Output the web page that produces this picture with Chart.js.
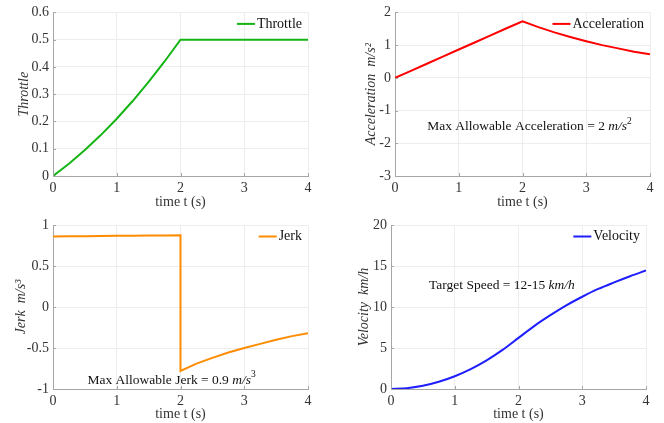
<!DOCTYPE html>
<html>
<head>
<meta charset="utf-8">
<script src="https://cdn.jsdelivr.net/npm/chart.js@4/dist/chart.umd.min.js"></script>
<style>
  body { margin: 0; background: #fff; }
  #wrap { position: relative; width: 664px; height: 423px; }
  canvas { position: absolute; }
</style>
</head>
<body>
<div id="wrap">
  <canvas id="c1" width="332" height="211" style="left:0;top:0"></canvas>
  <canvas id="c2" width="332" height="211" style="left:332px;top:0"></canvas>
  <canvas id="c3" width="332" height="212" style="left:0;top:211px"></canvas>
  <canvas id="c4" width="332" height="212" style="left:332px;top:211px"></canvas>
</div>
<script>
// values, every 0.25 s
const times = [0, 0.25, 0.5, 0.75, 1, 1.25, 1.5, 1.75, 2, 2.25, 2.5, 2.75, 3, 3.25, 3.5, 3.75, 4];
const throttle = [0, 0.045, 0.095, 0.15, 0.21, 0.275, 0.345, 0.42, 0.5, 0.5, 0.5, 0.5, 0.5, 0.5, 0.5, 0.5, 0.5];
const accel = [0, 0.215, 0.43, 0.65, 0.865, 1.08, 1.3, 1.515, 1.73, 1.55, 1.39, 1.25, 1.12, 1.0, 0.9, 0.8, 0.72];
const jerkTimes = [0, 0.25, 0.5, 0.75, 1, 1.25, 1.5, 1.75, 2, 2, 2.25, 2.5, 2.75, 3, 3.25, 3.5, 3.75, 4];
const jerk = [0.86, 0.862, 0.864, 0.866, 0.868, 0.869, 0.871, 0.873, 0.875, -0.78, -0.69, -0.62, -0.555, -0.5, -0.45, -0.4, -0.355, -0.32];
const velocity = [0, 0.1, 0.39, 0.88, 1.56, 2.43, 3.5, 4.77, 6.23, 7.7, 9.0, 10.2, 11.25, 12.2, 13.0, 13.75, 14.45];

const serif = "'Liberation Serif', 'DejaVu Serif', serif";
const txt = '#333333';
const axisCol = '#a6a6a6';
const fs = 14;

const insideLegend = {
  id: 'insideLegend',
  afterDraw(chart) {
    const ds = chart.data.datasets[0];
    const a = chart.chartArea;
    const ctx = chart.ctx;
    ctx.save();
    ctx.font = fs + 'px ' + serif;
    ctx.fillStyle = '#111';
    ctx.textBaseline = 'middle';
    const w = ctx.measureText(ds.label).width;
    const y = a.top + 11.5;
    const tx = a.right - 6 - w;
    ctx.fillText(ds.label, tx, y);
    ctx.strokeStyle = ds.borderColor;
    ctx.lineWidth = 2;
    ctx.beginPath();
    ctx.moveTo(tx - 20, y);
    ctx.lineTo(tx - 2, y);
    ctx.stroke();
    ctx.restore();
  }
};

const notes = {
  id: 'notes',
  afterDraw(chart, args, opts) {
    if (!opts.parts) return;
    const ctx = chart.ctx;
    const cx = chart.scales.x.getPixelForValue(opts.x);
    const cy = chart.scales.y.getPixelForValue(opts.y);
    const fontOf = s => s === 'i' ? 'italic 13.5px ' + serif : s === 'sup' ? '9.5px ' + serif : '13.5px ' + serif;
    ctx.save();
    ctx.textBaseline = 'middle';
    let total = 0;
    opts.parts.forEach(([t, s]) => { ctx.font = fontOf(s); total += ctx.measureText(t).width; });
    let x = cx - total / 2;
    ctx.fillStyle = '#111';
    opts.parts.forEach(([t, s]) => {
      ctx.font = fontOf(s);
      ctx.fillText(t, x, s === 'sup' ? cy - 5 : cy);
      x += ctx.measureText(t).width;
    });
    ctx.restore();
  }
};

const innerTicks = {
  id: 'innerTicks',
  afterDraw(chart) {
    const ctx = chart.ctx, a = chart.chartArea;
    ctx.save();
    ctx.strokeStyle = axisCol;
    ctx.lineWidth = 1;
    ctx.beginPath();
    chart.scales.x.ticks.forEach(t => {
      const px = Math.round(chart.scales.x.getPixelForValue(t.value)) + 0.5;
      ctx.moveTo(px, a.bottom); ctx.lineTo(px, a.bottom - 3);
    });
    chart.scales.y.ticks.forEach(t => {
      const py = Math.round(chart.scales.y.getPixelForValue(t.value)) + 0.5;
      ctx.moveTo(a.left, py); ctx.lineTo(a.left + 3, py);
    });
    ctx.stroke();
    ctx.restore();
  }
};

function panel(id, p) {
  return new Chart(document.getElementById(id), {
    type: 'line',
    data: {
      datasets: [{
        label: p.label,
        data: p.xs.map((x, i) => ({ x: x, y: p.ys[i] })),
        borderColor: p.color,
        borderWidth: 2,
        pointRadius: 0,
        tension: 0,
        cubicInterpolationMode: p.smooth ? 'monotone' : 'default',
        fill: false
      }]
    },
    options: {
      responsive: false,
      animation: false,
      layout: { padding: { top: p.top, right: p.right, left: 0, bottom: 0 } },
      scales: {
        x: {
          type: 'linear', min: 0, max: 4,
          ticks: { stepSize: 1, padding: 4, color: txt, font: { family: serif, size: fs } },
          grid: { color: '#ededed', drawTicks: false },
          border: { color: axisCol },
          title: { display: true, text: 'time t (s)', color: txt, font: { family: serif, size: fs, lineHeight: 1.2 }, padding: { top: 0, bottom: 0 } },
          afterFit: s => { s.height = p.xh; }
        },
        y: {
          min: p.ymin, max: p.ymax,
          ticks: { stepSize: p.step, padding: 4, color: txt, font: { family: serif, size: fs }, callback: v => String(Number(v.toFixed(3))) },
          grid: { color: '#ededed', drawTicks: false },
          border: { color: axisCol },
          title: { display: true, text: p.ytitle, color: txt, font: { family: serif, size: fs, style: 'italic', lineHeight: 1.2 }, padding: { top: p.tpad, bottom: 0 } },
          afterFit: s => { s.width = p.yw; }
        }
      },
      plugins: {
        legend: { display: false },
        tooltip: { enabled: false },
        notes: p.note || {}
      }
    },
    plugins: [innerTicks, insideLegend, notes]
  });
}

panel('c1', {
  label: 'Throttle', xs: times, ys: throttle, color: 'rgb(20,180,20)',
  ymin: 0, ymax: 0.6, step: 0.1, ytitle: 'Throttle',
  top: 12, right: 24, xh: 35, yw: 53, tpad: 16
});

panel('c2', {
  label: 'Acceleration', xs: times, ys: accel, color: 'rgb(255,0,0)',
  ymin: -3, ymax: 2, step: 1, ytitle: 'Acceleration  m/s\u00b2',
  top: 12, right: 14, xh: 35, yw: 63, tpad: 31,
  note: { x: 2.11, y: -1.5, parts: [['Max Allowable Acceleration = 2 ', 'r'], ['m/s', 'i'], ['2', 'sup']] }
});

panel('c3', {
  label: 'Jerk', xs: jerkTimes, ys: jerk, color: 'rgb(255,140,0)',
  ymin: -1, ymax: 1, step: 0.5, ytitle: 'Jerk  m/s\u00b3',
  top: 14, right: 24, xh: 34, yw: 53, tpad: 13,
  note: { x: 1.86, y: -0.89, parts: [['Max Allowable Jerk = 0.9 ', 'r'], ['m/s', 'i'], ['3', 'sup']] }
});

panel('c4', {
  label: 'Velocity', xs: times, ys: velocity, color: 'rgb(30,30,255)', smooth: true,
  ymin: 0, ymax: 20, step: 5, ytitle: 'Velocity  km/h',
  top: 14, right: 18, xh: 34, yw: 59, tpad: 24,
  note: { x: 1.74, y: 12.6, parts: [['Target Speed = 12-15 ', 'r'], ['km/h', 'i']] }
});
</script>
</body>
</html>
